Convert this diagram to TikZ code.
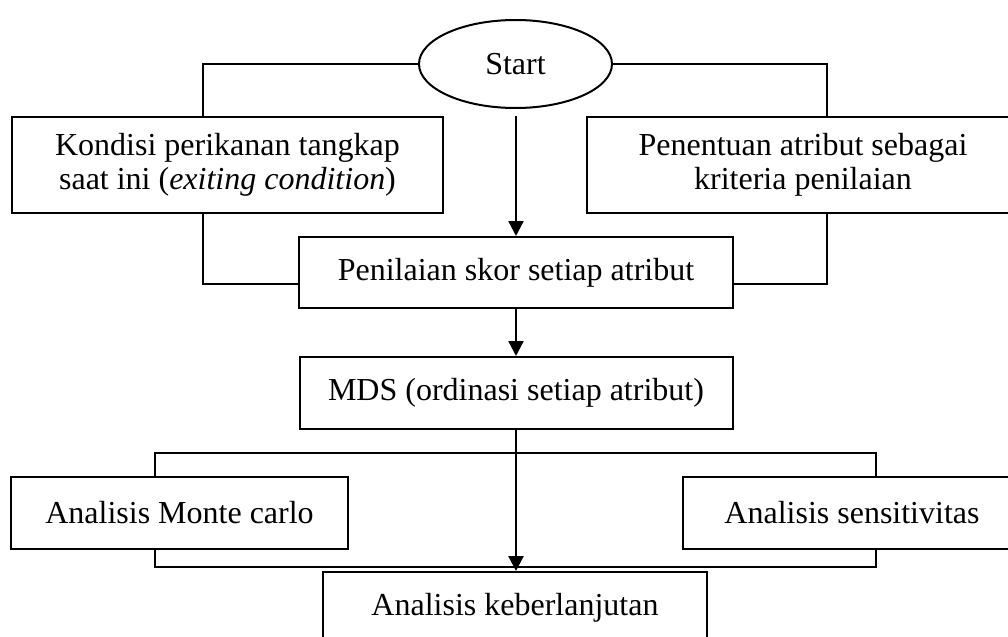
\documentclass[tikz,border=0pt]{standalone}
\usepackage{fontspec}
\setmainfont{Liberation Serif}
\usetikzlibrary{positioning, arrows.meta, shapes.geometric}

\begin{document}
\begin{tikzpicture}[
    x=0.5pt, y=-0.5pt,
    >={Triangle[length=7.5pt,width=7.5pt]},
    font=\fontsize{16}{17}\selectfont,
    block/.style={
        draw,
        line width=1pt,
        align=center,
        inner sep=0pt,
        minimum width=#1,
        minimum height=36pt
    },
    tallblock/.style={block=#1, minimum height=48pt},
    startnode/.style={
        draw,
        ellipse,
        line width=1pt,
        inner sep=0pt,
        minimum width=96.5pt,
        minimum height=44pt
    },
    link/.style={line width=1pt},
    flow/.style={line width=1.2pt, ->}
]

\useasboundingbox (0,0) rectangle (1008,637);
\clip (0,0) rectangle (1008,637);

% nodes
\node[startnode] (start) at (515.5,64) {Start};
\node[tallblock=215.5pt] (kondisi) at (227.5,165) {Kondisi perikanan tangkap\\saat ini (\textit{exiting condition})};
\node[tallblock=216pt] (penentuan) at (803,165) {Penentuan atribut sebagai\\kriteria penilaian};
\node[block=217pt, minimum height=35.5pt] (penilaian) at (516,272.5) {Penilaian skor setiap atribut};
\node[block=216.5pt] (mds) at (516,393) {MDS (ordinasi setiap atribut)};
\node[block=168.5pt] (monte) at (179.5,513) {Analisis Monte carlo};
\node[block=169pt] (sens) at (852,513) {Analisis sensitivitas};
\node[block=192pt] (keber) at (515,608) {Analisis keberlanjutan};

% bends of the side lines
\coordinate (kl) at (203,284);
\coordinate (kr) at (827,284);
\coordinate (tl) at (155,453);
\coordinate (tr) at (876,453);
\coordinate (bl) at (155,567);
\coordinate (br) at (876,567);

% upper part
\draw[link] (start.west) -| (kondisi.north -| kl);
\draw[link] (start.east) -| (penentuan.north -| kr);
\draw[link] (kondisi.south -| kl) -- (kl) -- (penilaian.west |- kl);
\draw[link] (penentuan.south -| kr) -- (kr) -- (penilaian.east |- kr);
\draw[flow] (penilaian.north |- kondisi.north) -- (penilaian.north);
\draw[flow] (penilaian) -- (mds);

% lower part
\draw[link] (monte.north -| tl) -- (tl) -- (tr) -- (sens.north -| tr);
\draw[link] (monte.south -| bl) -- (bl) -- (br) -- (sens.south -| br);
\draw[flow] (mds.south) -- (keber.north -| mds.south);

\end{tikzpicture}
\end{document}
